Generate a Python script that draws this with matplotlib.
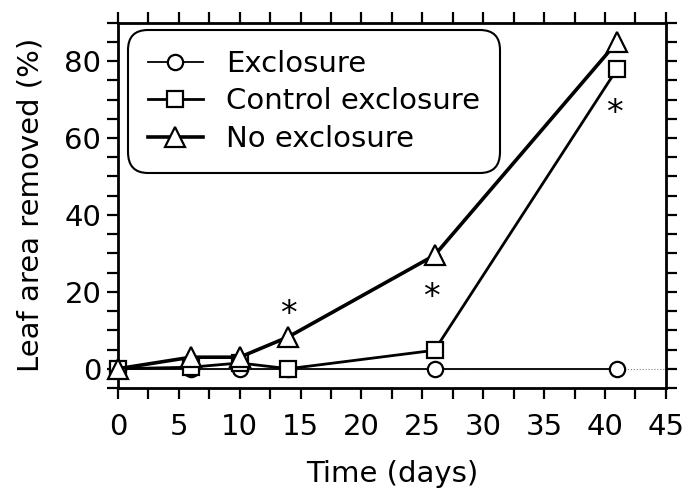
import matplotlib
matplotlib.use("Agg")
import matplotlib.pyplot as plt
from matplotlib.ticker import MultipleLocator

# dados
dias = [0, 6, 10, 14, 26, 41]
exclosure = [0, 0, 0, 0, 0, 0]
control = [0, 0.4, 1.5, 0, 4.8, 78]
no_exclosure = [0, 3, 3, 8.3, 29.5, 85]

# asteriscos de significância
ast_x = [14, 25.7, 40.8]
ast_y = [14, 18.5, 66.5]

plt.rcParams['font.family'] = ['DejaVu Sans']
fs = 21

fig = plt.figure(figsize=(6.84, 4.88), dpi=100)
ax = fig.add_axes([0.1725, 0.205, 0.801, 0.7485])

ax.axhline(0, color='gray', lw=0.8, ls=':', zorder=1)

estilo = dict(color='black', mfc='white', mec='black', mew=1.6, clip_on=False)
ax.plot(dias, exclosure, marker='o', ms=11, lw=1.3, label='Exclosure', zorder=3, **estilo)
ax.plot(dias, control, marker='s', ms=11, lw=2.0, label='Control exclosure', zorder=4, **estilo)
ax.plot(dias, no_exclosure, marker='^', ms=14, lw=2.6, label='No exclosure', zorder=5, **estilo)

for x, y in zip(ast_x, ast_y):
    ax.text(x, y, '*', fontsize=24, ha='center', va='center')

ax.set_xlim(0, 45)
ax.set_ylim(-5, 90)
ax.xaxis.set_major_locator(MultipleLocator(5))
ax.xaxis.set_minor_locator(MultipleLocator(2.5))
ax.yaxis.set_major_locator(MultipleLocator(20))
ax.yaxis.set_minor_locator(MultipleLocator(5))
ax.tick_params(which='both', direction='out', top=True, right=True,
               length=8, width=1.6)
ax.tick_params(axis='x', labelsize=fs, pad=10)
ax.tick_params(axis='y', labelsize=fs, pad=4)
for s in ax.spines.values():
    s.set_linewidth(2)

ax.set_xlabel('Time (days)', fontsize=fs, labelpad=14)
ax.set_ylabel('Leaf area removed (%)', fontsize=fs, labelpad=14)

leg = ax.legend(loc='upper left', bbox_to_anchor=(0.018, 0.98), borderaxespad=0,
                fontsize=fs, handlelength=1.9, handletextpad=0.8,
                labelspacing=0.33, borderpad=0.68, fancybox=True, framealpha=1)
frame = leg.get_frame()
frame.set_edgecolor('black')
frame.set_linewidth(1.5)
frame.set_boxstyle('round', pad=0, rounding_size=0.7)

fig.savefig('out.png', dpi=100)
